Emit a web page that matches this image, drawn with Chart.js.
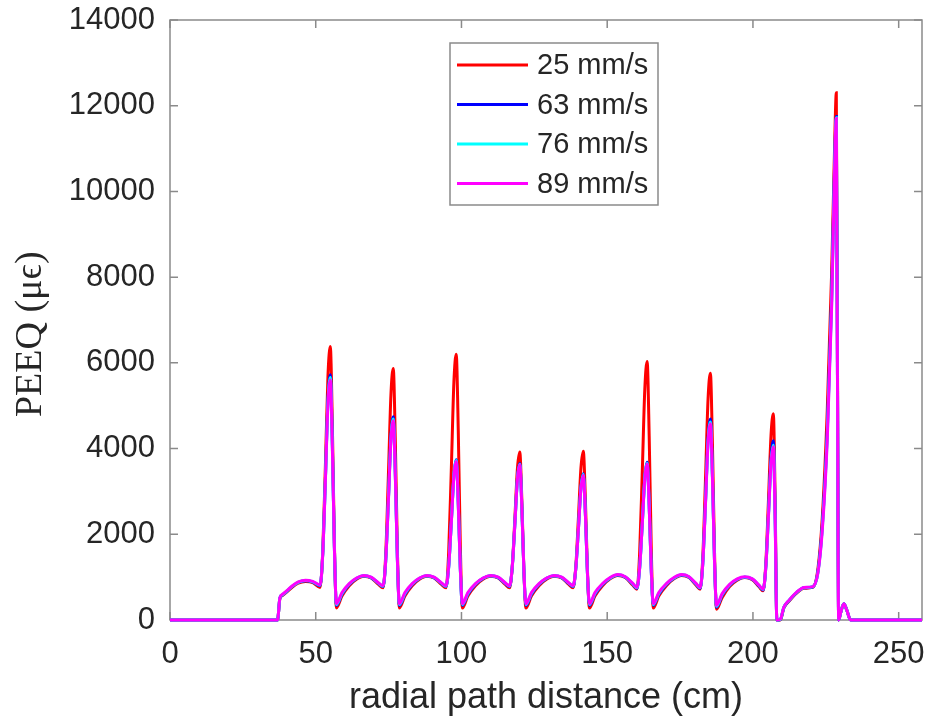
<!DOCTYPE html>
<html>
<head>
<meta charset="utf-8">
<script src="https://cdn.jsdelivr.net/npm/chart.js@4.4.1/dist/chart.umd.min.js"></script>
<style>
  html, body { margin: 0; padding: 0; background: #fff; }
  #wrap { width: 929px; height: 726px; }
</style>
</head>
<body>
<div id="wrap"><canvas id="peeq" width="929" height="726"></canvas></div>
<script>
// radial path distance (cm), shared by all four runs
const xs = [
  0, 36.9, 37.7, 38.6, 40, 42, 44, 46.5, 49, 51.5,
  52.4, 53.3, 54.2, 55, 55.7, 56.4, 57.1,
  59, 61.5, 64, 66.5, 69, 71.5, 73.1,
  74, 74.9, 75.8, 76.6, 77.3, 78, 78.7,
  80.6, 83.1, 85.6, 88.1, 90.6, 93.1, 94.7,
  95.6, 96.5, 97.4, 98.2, 98.9, 99.6, 100.3,
  102.2, 104.8, 107.4, 110, 112.6, 115, 116.5,
  117.4, 118.3, 119.2, 120, 120.7, 121.4, 122.1,
  124, 126.6, 129.2, 131.8, 134.4, 136.8, 138.3,
  139.2, 140.1, 141, 141.8, 142.5, 143.2, 143.9,
  145.8, 148.4, 151, 153.6, 156.2, 158.7, 160.2,
  161.1, 162, 162.9, 163.7, 164.4, 165.1, 165.8,
  167.7, 170.3, 172.9, 175.5, 178.1, 180.4, 181.9,
  182.8, 183.7, 184.6, 185.4, 186.1, 186.8, 187.5,
  189.4, 192, 194.6, 197.2, 199.8, 202, 203.5,
  204.4, 205.3, 206.2, 207, 207.6, 208.2,
  209.4, 210.6, 212.5, 215, 217.5, 220.5, 222.3, 223.8, 225.5, 227, 228, 228.6, 229, 229.4, 230.2, 231.2, 232.2, 233.5, 258
];

// PEEQ (micro-strain) per scan speed
const peeq25 = [
  0, 0, 500, 570, 650, 770, 860, 900, 870, 760,
  1600, 3570, 5710, 6380, 4550, 1800, 280,
  560, 800, 950, 1020, 980, 830, 750,
  1520, 3310, 5260, 5870, 4190, 1680, 280,
  560, 800, 950, 1020, 980, 830, 750,
  1570, 3480, 5550, 6200, 4420, 1760, 280,
  560, 800, 950, 1020, 980, 830, 750,
  1230, 2340, 3540, 3920, 2830, 1190, 280,
  560, 800, 950, 1020, 980, 830, 750,
  1230, 2350, 3560, 3940, 2840, 1200, 280,
  560, 800, 960, 1040, 990, 820, 720,
  1520, 3380, 5390, 6030, 4300, 1720, 280,
  560, 800, 960, 1040, 990, 820, 720,
  1480, 3240, 5160, 5760, 4110, 1630, 250,
  520, 780, 930, 990, 940, 780, 680,
  1300, 2750, 4310, 4810, 2900, 0,
  0, 280, 450, 630, 740, 760, 1200, 2400, 4900, 8100, 11000, 12300, 6000, 0, 200, 380, 230, 0, 0
];
const peeq63 = [
  0, 0, 510, 585, 665, 785, 875, 915, 885, 800,
  1540, 3260, 5130, 5720, 4110, 1690, 340,
  600, 830, 970, 1030, 990, 855, 780,
  1370, 2760, 4260, 4740, 3420, 1440, 340,
  600, 830, 970, 1030, 990, 855, 780,
  1220, 2260, 3380, 3740, 2720, 1190, 340,
  600, 830, 970, 1030, 990, 855, 780,
  1210, 2220, 3310, 3650, 2660, 1170, 340,
  600, 830, 970, 1030, 990, 855, 780,
  1180, 2100, 3100, 3420, 2500, 1110, 340,
  600, 830, 975, 1050, 1000, 840, 740,
  1180, 2210, 3330, 3680, 2680, 1180, 340,
  600, 830, 975, 1050, 1000, 840, 740,
  1330, 2720, 4220, 4690, 3370, 1400, 300,
  570, 810, 945, 1000, 950, 800, 700,
  1220, 2440, 3760, 4180, 2500, 0,
  10, 290, 460, 640, 750, 770, 1130, 2200, 4400, 7500, 10600, 11750, 5700, 0, 200, 380, 230, 0, 0
];
const peeq76 = [
  0, 0, 515, 590, 670, 790, 880, 920, 890, 810,
  1540, 3240, 5080, 5660, 4070, 1690, 360,
  620, 840, 975, 1035, 995, 860, 790,
  1380, 2740, 4220, 4690, 3390, 1440, 360,
  620, 840, 975, 1035, 995, 860, 790,
  1230, 2260, 3370, 3720, 2710, 1200, 360,
  620, 840, 975, 1035, 995, 860, 790,
  1220, 2210, 3290, 3635, 2650, 1180, 360,
  620, 840, 975, 1035, 995, 860, 790,
  1180, 2100, 3090, 3400, 2490, 1120, 360,
  620, 840, 980, 1055, 1005, 850, 750,
  1190, 2210, 3310, 3660, 2670, 1190, 360,
  620, 840, 980, 1055, 1005, 850, 750,
  1330, 2690, 4160, 4620, 3330, 1400, 320,
  590, 820, 950, 1005, 955, 810, 710,
  1220, 2400, 3680, 4080, 2440, 0,
  15, 295, 465, 645, 755, 775, 1110, 2150, 4300, 7400, 10500, 11720, 5650, 0, 200, 380, 230, 0, 0
];
const peeq89 = [
  0, 0, 520, 600, 680, 800, 890, 930, 900, 820,
  1540, 3210, 5030, 5600, 4030, 1690, 380,
  640, 850, 980, 1040, 1000, 870, 800,
  1380, 2720, 4190, 4650, 3370, 1450, 380,
  640, 850, 980, 1040, 1000, 870, 800,
  1240, 2250, 3350, 3700, 2700, 1210, 380,
  640, 850, 980, 1040, 1000, 870, 800,
  1220, 2210, 3280, 3620, 2650, 1190, 380,
  640, 850, 980, 1040, 1000, 870, 800,
  1190, 2090, 3070, 3380, 2480, 1130, 380,
  640, 850, 990, 1060, 1010, 860, 760,
  1190, 2200, 3290, 3640, 2660, 1200, 380,
  640, 850, 990, 1060, 1010, 860, 760,
  1330, 2670, 4120, 4580, 3310, 1400, 340,
  610, 830, 960, 1010, 960, 820, 720,
  1220, 2380, 3640, 4040, 2420, 0,
  20, 300, 470, 650, 760, 780, 1100, 2100, 4200, 7300, 10400, 11700, 5600, 0, 200, 380, 230, 0, 0
];

const seriesLabels = ['25 mm/s', '63 mm/s', '76 mm/s', '89 mm/s'];
const seriesColors = ['#ff0000', '#0000ff', '#00ffff', '#ff00ff'];
const seriesValues = [peeq25, peeq63, peeq76, peeq89];
const xTicks = [0, 50, 100, 150, 200, 250];
const yTicks = [0, 2000, 4000, 6000, 8000, 10000, 12000, 14000];

const SANS = '"Liberation Sans", Arial, Helvetica, sans-serif';
const SERIF = '"Liberation Serif", "DejaVu Serif", "Times New Roman", serif';
const AXIS_GREY = '#8a8a8a';
const TEXT = '#262626';

// matlab style box with inward ticks, drawn under the data
const boxPlugin = {
  id: 'box',
  beforeDatasetsDraw(chart) {
    const { ctx, chartArea: a, scales: { x, y } } = chart;
    const tl = 8;
    ctx.save();
    ctx.strokeStyle = AXIS_GREY;
    ctx.lineWidth = 1.5;
    ctx.strokeRect(a.left, a.top, a.right - a.left, a.bottom - a.top);
    ctx.beginPath();
    xTicks.forEach(v => {
      const px = x.getPixelForValue(v);
      ctx.moveTo(px, a.bottom); ctx.lineTo(px, a.bottom - tl);
      ctx.moveTo(px, a.top); ctx.lineTo(px, a.top + tl);
    });
    yTicks.forEach(v => {
      const py = y.getPixelForValue(v);
      ctx.moveTo(a.left, py); ctx.lineTo(a.left + tl, py);
      ctx.moveTo(a.right, py); ctx.lineTo(a.right - tl, py);
    });
    ctx.stroke();
    ctx.restore();
  }
};

// boxed legend inside the axes, upper middle
const legendPlugin = {
  id: 'boxLegend',
  afterDraw(chart) {
    const { ctx, chartArea: a } = chart;
    const left = a.left + 280, top = a.top + 23, w = 208, h = 162;
    ctx.save();
    ctx.fillStyle = '#fff';
    ctx.fillRect(left, top, w, h);
    ctx.strokeStyle = AXIS_GREY;
    ctx.lineWidth = 1.5;
    ctx.strokeRect(left, top, w, h);
    ctx.font = '29px ' + SANS;
    ctx.textBaseline = 'middle';
    ctx.textAlign = 'left';
    seriesLabels.forEach((lab, i) => {
      const yy = top + 22 + i * 39.5;
      ctx.strokeStyle = seriesColors[i];
      ctx.lineWidth = 3;
      ctx.beginPath();
      ctx.moveTo(left + 7, yy);
      ctx.lineTo(left + 78, yy);
      ctx.stroke();
      ctx.fillStyle = TEXT;
      ctx.fillText(lab, left + 87, yy + 1);
    });
    ctx.restore();
  }
};

const datasets = seriesValues.map((vals, i) => ({
  label: seriesLabels[i],
  data: xs.map((x, k) => ({ x, y: vals[k] })),
  borderColor: seriesColors[i],
  backgroundColor: seriesColors[i],
  borderWidth: 3,
  pointRadius: 0,
  cubicInterpolationMode: 'monotone',
  clip: false,
  order: seriesValues.length - 1 - i,
}));

new Chart(document.getElementById('peeq'), {
  type: 'line',
  data: { datasets },
  options: {
    responsive: false,
    animation: false,
    devicePixelRatio: 1,
    layout: { padding: { left: 0, right: 7, top: 20, bottom: 0 } },
    plugins: { legend: { display: false }, tooltip: { enabled: false } },
    scales: {
      x: {
        type: 'linear',
        min: 0, max: 258,
        afterFit: s => { s.height = 106; s.paddingLeft = 0; s.paddingRight = 0; },
        afterBuildTicks: s => { s.ticks = xTicks.map(v => ({ value: v })); },
        grid: { display: false, drawTicks: false },
        border: { display: false },
        ticks: { color: TEXT, font: { family: SANS, size: 31 }, padding: 16, maxRotation: 0 },
        title: {
          display: true,
          text: 'radial path distance (cm)',
          color: TEXT,
          font: { family: SANS, size: 36 },
          padding: { top: 0, bottom: 6 },
        },
      },
      y: {
        type: 'linear',
        min: 0, max: 14000,
        afterFit: s => { s.width = 170; s.paddingTop = 0; s.paddingBottom = 0; },
        afterBuildTicks: s => { s.ticks = yTicks.map(v => ({ value: v })); },
        grid: { display: false, drawTicks: false },
        border: { display: false },
        ticks: { color: TEXT, font: { family: SANS, size: 31 }, padding: 15, callback: v => String(v) },
        title: {
          display: true,
          text: 'PEEQ (μϵ)\u00a0\u00a0\u00a0',
          color: TEXT,
          font: { family: SERIF, size: 38 },
          padding: { top: 8, bottom: 0 },
        },
      },
    },
  },
  plugins: [boxPlugin, legendPlugin],
});
</script>
</body>
</html>
